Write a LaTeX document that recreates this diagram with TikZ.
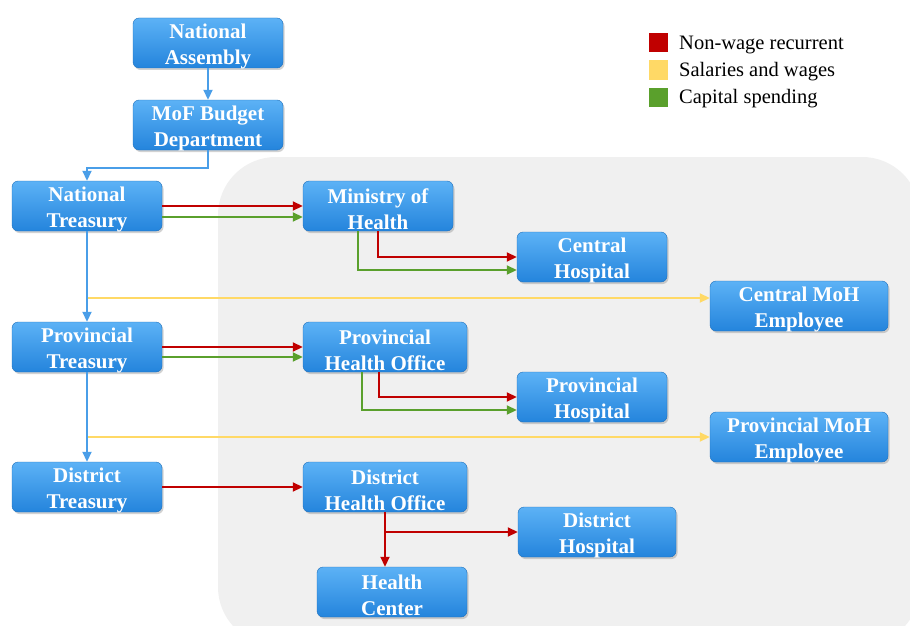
\documentclass[tikz,border=0pt]{standalone}
\usepackage{fontspec}
\setmainfont{Liberation Serif}
\usetikzlibrary{arrows.meta,shadows,calc}
\definecolor{bgray}{HTML}{F0F0F0}
\definecolor{bluel}{HTML}{4A9EE8}
\definecolor{redl}{HTML}{C00000}
\definecolor{yell}{HTML}{FFD966}
\definecolor{grnl}{HTML}{5AA02C}
\definecolor{boxtop}{HTML}{5CB2F6}
\definecolor{boxbot}{HTML}{2484DC}
\tikzset{
  box/.style={rounded corners=6pt, top color=boxtop, bottom color=boxbot, draw=boxbot!85!black, line width=0.4pt,
    drop shadow={shadow xshift=1.5pt, shadow yshift=-2pt, opacity=0.35},
    minimum width=150pt, minimum height=50pt, inner sep=0pt},
  boxtxt/.style={align=center, inner sep=0pt, yshift=-3pt,
    text=white, font=\fontsize{21pt}{26pt}\selectfont\bfseries},
  bx/.style={label={[boxtxt]center:{#1}}},
  arr/.style={line width=1.8pt, -{Triangle[length=10pt,width=9pt]}},
  bluearr/.style={arr, draw=bluel, color=bluel},
  redarr/.style={arr, draw=redl, color=redl},
  yelarr/.style={arr, draw=yell, color=yell},
  grnarr/.style={arr, draw=grnl, color=grnl},
  legsq/.style={minimum size=19pt, inner sep=0pt},
  legtxt/.style={anchor=west, inner sep=0pt, font=\fontsize{20.5pt}{22pt}\selectfont}
}
\begin{document}
\begin{tikzpicture}[x=1pt,y=-1pt]
\useasboundingbox (0,0) rectangle (910,626);
\fill[white] (0,0) rectangle (910,626);
\begin{scope}
\clip (0,0) rectangle (910,626);
\fill[bgray, rounded corners=58pt] (218,157) rectangle (920,645);
\end{scope}

% legend
\node[legsq, fill=redl] (lr) at (658,43) {};
\node[legsq, fill=yell] (ly) at (658,70) {};
\node[legsq, fill=grnl] (lg) at (658,97) {};
\node[legtxt] (tr) at (679,45) {Non-wage recurrent};
\node[legtxt] (ty) at (679,72) {Salaries and wages};
\node[legtxt] (tg) at (679,99) {Capital spending};

% boxes
\node[box, bx={National\\Assembly}] (na) at (208,43) {};
\node[box, bx={MoF Budget\\Department}] (mof) at (208,125) {};
\node[box, bx={National\\Treasury}] (nt) at (87,206) {};
\node[box, bx={Ministry of\\Health}] (moh) at (378,206) {};
\node[box, bx={Central\\Hospital}] (ch) at (592,257) {};
\node[box, minimum width=178pt, bx={Central MoH\\Employee}] (cme) at (799,306) {};
\node[box, bx={Provincial\\Treasury}] (pt) at (87,347) {};
\node[box, minimum width=164pt, bx={Provincial\\Health Office}] (pho) at (385,347) {};
\node[box, bx={Provincial\\Hospital}] (ph) at (592,397) {};
\node[box, minimum width=178pt, bx={Provincial MoH\\Employee}] (pme) at (799,437) {};
\node[box, bx={District\\Treasury}] (dt) at (87,487) {};
\node[box, minimum width=164pt, bx={District\\Health Office}] (dho) at (385,487) {};
\node[box, minimum width=158pt, bx={District\\Hospital}] (dh) at (597,532) {};
\node[box, bx={Health\\Center}] (hc) at (392,592) {};

% blue flow
\draw[bluearr] (na) -- (mof);
\draw[bluearr] (mof.south) -- ++(0,-18pt) -| (nt.north);
\draw[bluearr] (nt) -- (pt);
\draw[bluearr] (pt) -- (dt);

% yellow
\coordinate (j1) at (88,298);
\coordinate (j2) at (88,437);
\draw[yelarr] (j1) -- (j1 -| cme.west);
\draw[yelarr] (j2) -- (j2 -| pme.west);

% national level
\draw[redarr] (nt.east) -- (moh.west);
\draw[grnarr] ([yshift=-11pt]nt.east) -- ([yshift=-11pt]moh.west);
\draw[redarr] (moh.south) |- (ch.west);
\draw[grnarr] ([xshift=-20pt]moh.south) |- ([yshift=-13pt]ch.west);

% provincial level
\draw[redarr] (pt.east) -- (pho.west);
\draw[grnarr] ([yshift=-10pt]pt.east) -- ([yshift=-10pt]pho.west);
\draw[redarr] ([xshift=-6pt]pho.south) |- (ph.west);
\draw[grnarr] ([xshift=-23pt]pho.south) |- ([yshift=-13pt]ph.west);

% district level
\draw[redarr] (dt.east) -- (dho.west);
\draw[redarr] (dho.south) -- (dho.south |- hc.north);
\draw[redarr] (dho.south |- dh.west) -- (dh.west);
\end{tikzpicture}
\end{document}
